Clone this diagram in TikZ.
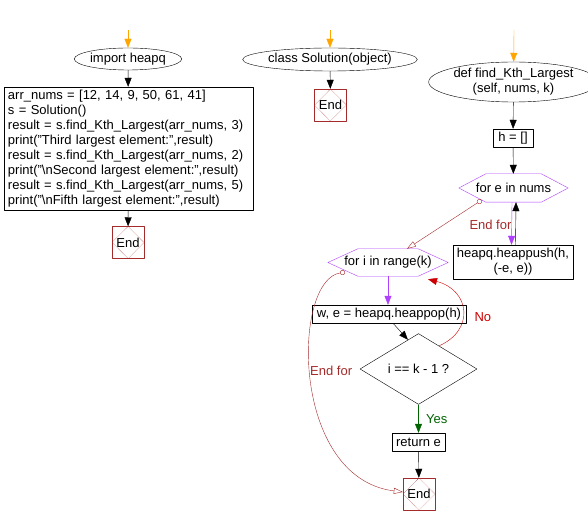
\documentclass[tikz,border=0pt]{standalone}
\usepackage{fontspec}
\setmainfont{Liberation Sans}
\usetikzlibrary{calc}
\usetikzlibrary{arrows.meta}
\usetikzlibrary{shapes.geometric}
\definecolor{startcol}{RGB}{255,165,0}
\definecolor{loopcol}{RGB}{176,64,255}
\definecolor{endcol}{RGB}{165,42,42}
\definecolor{nocol}{RGB}{204,0,0}
\definecolor{yescol}{RGB}{0,100,0}
\begin{document}
\begin{tikzpicture}[x=1pt, y=-1pt, line join = round, >={Triangle[length=9pt,width=7pt]}, font=\fontsize{13}{15}\selectfont]
\tikzstyle{term}=[draw, ellipse, inner sep=0pt]
\tikzstyle{stmt}=[draw, rectangle, inner sep=2pt]
\tikzstyle{loop}=[rectangle, inner sep=0pt]
\tikzstyle{cond}=[draw, diamond, inner sep=0pt]
\tikzstyle{stop}=[draw=endcol, rectangle, inner sep=0pt, minimum width=32, minimum height=32, path picture={\draw[endcol, densely dotted] (path picture bounding box.north) -- (path picture bounding box.east) -- (path picture bounding box.south) -- (path picture bounding box.west) -- cycle;}]
\tikzstyle{endfor}=[endcol, {Circle[open,length=5pt]}-{Triangle[open,length=9pt,width=6pt]}]
\useasboundingbox (0,0) rectangle (588,526);

\coordinate (s1) at (128,30);
\coordinate (s2) at (330,30);
\coordinate (s3) at (514,30);

\node[term, minimum width=90, minimum height=22] (imp) at (128,59) {import heapq};
\node[stmt, minimum width=249, minimum height=123, text width=241, align=left] (main) at (128.5,148.5) {arr\_nums = [12, 14, 9, 50, 61, 41]\\s = Solution()\\result = s.find\_Kth\_Largest(arr\_nums, 3)\\print("Third largest element:",result)\\result = s.find\_Kth\_Largest(arr\_nums, 2)\\print("\textbackslash nSecond largest element:",result)\\result = s.find\_Kth\_Largest(arr\_nums, 5)\\print("\textbackslash nFifth largest element:",result)};
\node[stop] (end1) at (128,242.5) {End};

\node[term, minimum width=146, minimum height=23] (cls) at (330,59.5) {class Solution(object)};
\node[stop] (end2) at (330.5,105) {End};

\node[term, minimum width=143, minimum height=40, align=center] (def) at (513.5,82) {def find\_Kth\_Largest\\(self, nums, k)};
\node[stmt, minimum width=40, minimum height=18] (h) at (513,138) {h = []};
\node[loop, minimum width=109, minimum height=28] (fore) at (513.5,188) {for e in nums};
\draw[loopcol] (fore.west) -- ([xshift=27pt]fore.north west) -- ([xshift=-27pt]fore.north east) -- (fore.east) -- ([xshift=-27pt]fore.south east) -- ([xshift=27pt]fore.south west) -- cycle;
\node[stmt, minimum width=120, minimum height=34, align=center] (push) at (513,262) {heapq.heappush(h,\\(-e, e))};
\node[loop, minimum width=120, minimum height=27] (fori) at (388,262.5) {for i in range(k)};
\draw[loopcol] (fori.west) -- ([xshift=30pt]fori.north west) -- ([xshift=-30pt]fori.north east) -- (fori.east) -- ([xshift=-30pt]fori.south east) -- ([xshift=30pt]fori.south west) -- cycle;
\node[stmt, minimum width=154, minimum height=18] (pop) at (389,314) {w, e = heapq.heappop(h)};
\node[cond, minimum width=117, minimum height=40] (chk) at (418.5,369) {i == k - 1 ?};
\node[stmt, minimum width=53, minimum height=18] (ret) at (418.5,442) {return e};
\node[stop] (end3) at (419,494) {End};

\draw[->, startcol] (s1) -- (imp);
\draw[->, startcol] (s2) -- (cls);
\draw[->, startcol] (s3) -- (def);
\draw[->] (imp) -- (main);
\draw[->] (main) -- (end1);
\draw[->] (cls) -- (end2);
\draw[->] (def) -- (h);
\draw[->] (h) -- (fore);
\draw[->, loopcol] ([xshift=-1.5pt]fore.south) -- ([xshift=-1.5pt]push.north);
\draw[->] ([xshift=2.5pt]push.north) -- ([xshift=2.5pt]fore.south);
\draw[endfor] ([xshift=-32pt,yshift=2pt]fore.south) -- ([xshift=19pt]fori.north) node[pos=0.45, right=18pt, yshift=-3pt] {End for};
\draw[->, loopcol] (fori) -- (fori |- pop.north);
\draw[->] ([xshift=4pt]pop.south) -- ($(chk.north)!0.18!(chk.west)$);
\draw[->, nocol] ($(chk.north)!0.35!(chk.east)$) .. controls (475,330) and (470,290) .. ([xshift=40pt,yshift=-3pt]fori.south) node[pos=0.42, right=8pt] {No};
\draw[->, yescol] (chk) -- (ret) node[midway, right=4pt] {Yes};
\draw[->] (ret) -- (end3);
\draw[endfor] ([xshift=-43pt,yshift=4pt]fori.south) .. controls (292,280) and (290,478) .. (end3) node[pos=0.47, right=0pt, xshift=-4pt] {End for};
\end{tikzpicture}
\end{document}
